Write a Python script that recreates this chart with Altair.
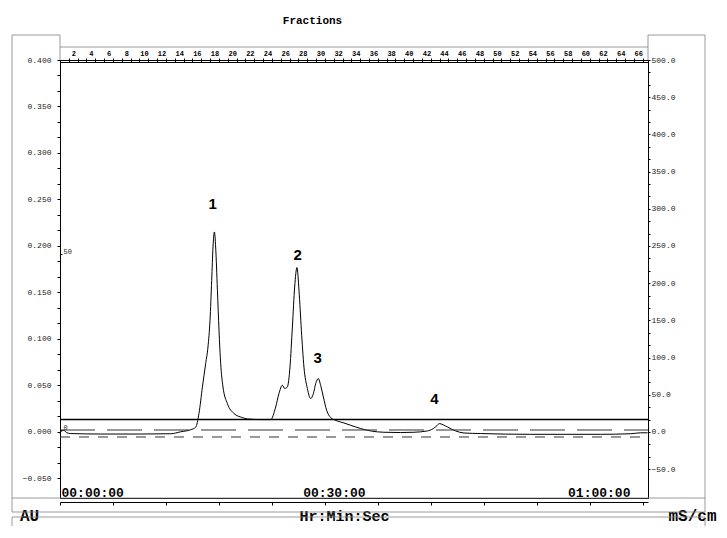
import altair as alt
import pandas as pd

# ---------------- data ----------------
uv_time = [0.00, 0.19, 0.45, 0.72, 1.21, 4.61, 9.14, 12.54, 13.67, 14.80, 15.37, 15.74,
           16.13, 16.50, 16.76, 16.99, 17.18, 17.33, 17.49, 17.63, 17.83, 18.01, 18.20,
           18.46, 18.96, 19.71, 20.66, 21.22, 22.73, 23.86, 24.43, 24.80, 25.19, 25.45,
           25.75, 26.05, 26.32, 26.58, 26.84, 27.07, 27.34, 27.63, 28.02, 28.39, 28.70,
           28.96, 29.26, 29.52, 29.83, 30.20, 30.66, 31.42, 32.16, 32.92, 34.06, 35.19,
           36.69, 38.58, 40.09, 41.61, 42.29, 42.74, 42.95, 43.87, 44.81, 45.75, 47.64,
           53.31, 61.24, 64.64, 65.77, 66.56]
uv_au = [-0.0017, 0.0011, 0.0018, -0.0006, -0.0017, -0.0022, -0.0022, -0.0019, 0.0002,
         0.0024, 0.0051, 0.0198, 0.0484, 0.0736, 0.0914, 0.1201, 0.1631, 0.1989, 0.2151,
         0.1989, 0.1524, 0.1094, 0.0736, 0.0484, 0.0305, 0.0198, 0.0155, 0.0140, 0.0133,
         0.0133, 0.0269, 0.0413, 0.0502, 0.0467, 0.0484, 0.0699, 0.1129, 0.1559, 0.1768,
         0.1524, 0.1094, 0.0699, 0.0467, 0.0359, 0.0413, 0.0520, 0.0574, 0.0502, 0.0376,
         0.0233, 0.0155, 0.0118, 0.0097, 0.0072, 0.0037, 0.0011, -0.0003, -0.0006,
         -0.0003, 0.0011, 0.0037, 0.0072, 0.0090, 0.0054, 0.0011, -0.0011, -0.0017,
         -0.0025, -0.0025, -0.0019, -0.0009, -0.0009]

cond_time = [0.0, 66.6]
cond_mscm = [16.7, 16.7]

pctb_time = [0.0, 66.6]
pctb_value = [0.0, 0.0]

aux_time = [0.0, 66.6]
aux_au = [-0.0054, -0.0054]

peak_labels = ["1", "2", "3", "4"]
peak_time = [17.29, 26.92, 29.19, 42.40]
peak_au = [0.2448, 0.1903, 0.0793, 0.0351]

time_label_values = [0, 30, 60]
time_label_text = ["00:00:00", "00:30:00", "01:00:00"]
time_tick_step = 6

fraction_numbers = list(range(1, 67))

au_major = [-0.05, 0.0, 0.05, 0.10, 0.15, 0.20, 0.25, 0.30, 0.35, 0.40]
cond_major = [-50, 0, 50, 100, 150, 200, 250, 300, 350, 400, 450, 500]
pctb_ticks = [0, 50]

# ---------------- scales ----------------
X_DOMAIN = [0, 66.6]
AU_DOMAIN = [-0.071, 0.40]
COND_DOMAIN = [AU_DOMAIN[0] * 1250, AU_DOMAIN[1] * 1250]
PCT_DOMAIN = [-19.3, 105.0]
W, H = 588, 438

MONO = "Liberation Mono"

def thirds(majors):
    out = []
    for a, b in zip(majors[:-1], majors[1:]):
        out += [a, a + (b - a) / 3, a + 2 * (b - a) / 3]
    return out + [majors[-1]]

au_ticks = thirds(au_major)
cond_ticks = thirds(cond_major)
time_ticks = list(range(0, 67, time_tick_step))

time_expr = "".join(
    f"datum.value == {v} ? '{t}' : " for v, t in zip(time_label_values, time_label_text)
) + "''"

uv_df = pd.DataFrame({"t": uv_time, "au": uv_au})
cond_df = pd.DataFrame({"t": cond_time, "ms": cond_mscm})
pct_df = pd.DataFrame({"t": pctb_time, "pct": pctb_value})
aux_df = pd.DataFrame({"t": aux_time, "au": aux_au})
peak_df = pd.DataFrame({"t": peak_time, "au": peak_au, "label": peak_labels})

xs = alt.Scale(domain=X_DOMAIN, nice=False, zero=False)
ys = alt.Scale(domain=AU_DOMAIN, nice=False, zero=False)

bottom_axis = alt.Axis(
    orient="bottom", values=time_ticks, labelExpr=time_expr, offset=4, tickSize=3,
    labelPadding=-13, labelBaseline="middle", labelFont=MONO, labelFontWeight="bold",
    labelFontSize=13, labelColor="black", labelFlush=10, labelOffset=9,
    labelFlushOffset=8, labelOverlap=False, grid=False, domainColor="black",
    tickColor="black", title="Hr:Min:Sec", titleX=284, titleY=13,
    titleBaseline="middle", titleFont=MONO, titleFontWeight="bold", titleFontSize=15,
    titleColor="black",
)

top_axis = alt.Axis(
    orient="top", values=fraction_numbers,
    labelExpr="datum.value % 2 == 0 ? '' + datum.value : ''", labelOffset=-4.4,
    offset=-2, tickSize=4, labelPadding=2, labelFont=MONO, labelFontWeight="bold",
    labelFontSize=7, labelColor="black", labelFlush=False, labelOverlap=False,
    grid=False, domainColor="black", tickColor="black", title="Fractions",
    titleX=252, titleY=-42, titleBaseline="middle", titleFont=MONO,
    titleFontWeight="bold", titleFontSize=11, titleColor="black",
)

left_axis = alt.Axis(
    orient="left", values=au_ticks,
    labelExpr="abs(datum.value*20 - round(datum.value*20)) < 1e-6 ? format(datum.value, '.3f') : ''",
    labelFont=MONO, labelFontSize=8, labelColor="#222", tickSize=3, labelPadding=6,
    labelOverlap=False, grid=False, domainColor="black", tickColor="black",
    title="AU", titleAngle=0, titleX=-31, titleY=455, titleAlign="center",
    titleBaseline="middle", titleFont=MONO, titleFontWeight="bold", titleFontSize=16,
    titleColor="black",
)

right_axis = alt.Axis(
    orient="right", values=cond_ticks,
    labelExpr="abs(datum.value/50 - round(datum.value/50)) < 1e-6 ? format(datum.value, '.1f') : ''",
    labelFont=MONO, labelFontSize=8, labelColor="#222", tickSize=2, labelPadding=1,
    labelOverlap=False, grid=False, domainColor="black", tickColor="black",
    title="mS/cm", titleAngle=0, titleX=44, titleY=455, titleAlign="center",
    titleBaseline="middle", titleFont=MONO, titleFontWeight="bold", titleFontSize=16,
    titleColor="black",
)

pct_axis = alt.Axis(
    orient="right", offset=-W, values=pctb_ticks, labelFont=MONO, labelFontSize=7,
    labelColor="#222", tickSize=2, labelPadding=1, labelOffset=-2, domain=False,
    grid=False, tickColor="black", title=None, labelOverlap=False,
)

uv = alt.Chart(uv_df).mark_line(color="black", strokeWidth=1, interpolate="monotone").encode(
    x=alt.X("t:Q", scale=xs, axis=bottom_axis),
    y=alt.Y("au:Q", scale=ys, axis=left_axis),
)

cond = alt.Chart(cond_df).mark_line(color="black", strokeWidth=1.6).encode(
    x=alt.X("t:Q", scale=xs, axis=top_axis),
    y=alt.Y("ms:Q", scale=alt.Scale(domain=COND_DOMAIN, nice=False, zero=False), axis=right_axis),
)

pct = alt.Chart(pct_df).mark_line(color="#333", strokeWidth=1, strokeDash=[35, 12]).encode(
    x=alt.X("t:Q", scale=xs, axis=None),
    y=alt.Y("pct:Q", scale=alt.Scale(domain=PCT_DOMAIN, nice=False, zero=False), axis=pct_axis),
)

aux = alt.Chart(aux_df).mark_line(color="#333", strokeWidth=1, strokeDash=[10, 9]).encode(
    x=alt.X("t:Q", scale=xs, axis=None),
    y=alt.Y("au:Q", scale=ys, axis=None),
)

peaks = alt.Chart(peak_df).mark_text(
    font="Liberation Sans", fontWeight="bold", fontSize=15, color="black", baseline="middle"
).encode(
    x=alt.X("t:Q", scale=xs, axis=None),
    y=alt.Y("au:Q", scale=ys, axis=None),
    text="label:N",
)

# ---------------- printout frame (decoration) ----------------
one = pd.DataFrame({"k": [0]})
FRAME = "#808080"

def hrule(x1, x2, y):
    return alt.Chart(one).mark_rule(color=FRAME, strokeWidth=0.8).encode(
        x=alt.value(x1), x2=alt.value(x2), y=alt.value(y))

def vrule(x, y1, y2):
    return alt.Chart(one).mark_rule(color=FRAME, strokeWidth=0.8).encode(
        x=alt.value(x), y=alt.value(y1), y2=alt.value(y2))

frame = [
    vrule(-48, -25, 452), hrule(-48, 0, -25), vrule(0, -25, 0),
    hrule(0, W, -13),
    hrule(W, 645, -25), vrule(645, -25, 452), vrule(W, -25, 0),
    hrule(-48, 645, H), hrule(-48, 645, 452),
    hrule(-48, 645, 457), hrule(-48, 645, 468), vrule(-48, 457, 468), vrule(645, 457, 468),
]

chart = alt.layer(
    *frame, uv, cond, pct, aux, peaks
).resolve_scale(y="independent").resolve_axis(x="independent", y="independent").properties(
    width=W, height=H,
    autosize=alt.AutoSizeParams(type="none"),
    padding={"left": 52, "top": 52, "right": 71, "bottom": 28},
    background="white",
).configure_view(stroke="black", strokeWidth=1)

chart.save("out.html", embed_options={"renderer": "svg", "actions": False})
